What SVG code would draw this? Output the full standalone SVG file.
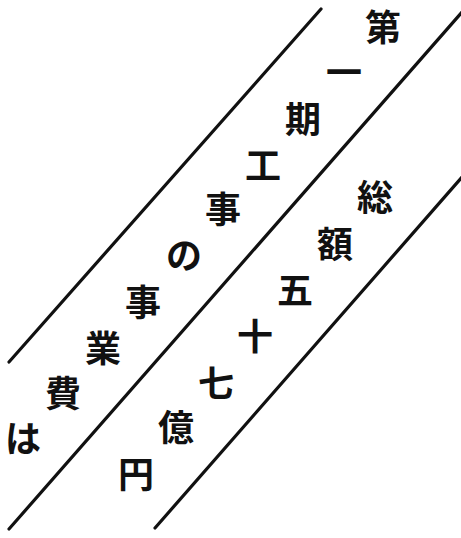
<svg xmlns="http://www.w3.org/2000/svg" width="461" height="538" viewBox="0 0 461 538">
<style>
.ln{stroke:#111;stroke-width:3.2;stroke-linecap:round;fill:none}
.t{font-family:"Noto Sans CJK JP","Noto Sans CJK SC",sans-serif;font-weight:700;font-size:36px;fill:#111;text-anchor:middle;dominant-baseline:central}
</style>
<rect width="461" height="538" fill="#fff"/>
<g id="lines">
<line class="ln" x1="321" y1="9" x2="9" y2="362"/>
<line class="ln" x1="463" y1="11" x2="9" y2="529"/>
<line class="ln" x1="463" y1="176" x2="155" y2="528"/>
</g>
<g id="band1">
<text class="t" x="383" y="25">第</text>
<text class="t" x="344" y="70">一</text>
<text class="t" x="303" y="117">期</text>
<text class="t" x="263" y="163">工</text>
<text class="t" x="223" y="207">事</text>
<text class="t" x="184" y="253">の</text>
<text class="t" x="143" y="300">事</text>
<text class="t" x="103" y="346">業</text>
<text class="t" x="63" y="391">費</text>
<text class="t" x="23" y="436">は</text>
</g>
<g id="band2">
<text class="t" x="375" y="195">総</text>
<text class="t" x="335" y="242">額</text>
<text class="t" x="295" y="288">五</text>
<text class="t" x="255" y="334">十</text>
<text class="t" x="216" y="381">七</text>
<text class="t" x="176" y="425">億</text>
<text class="t" x="136" y="472">円</text>
</g>
</svg>
